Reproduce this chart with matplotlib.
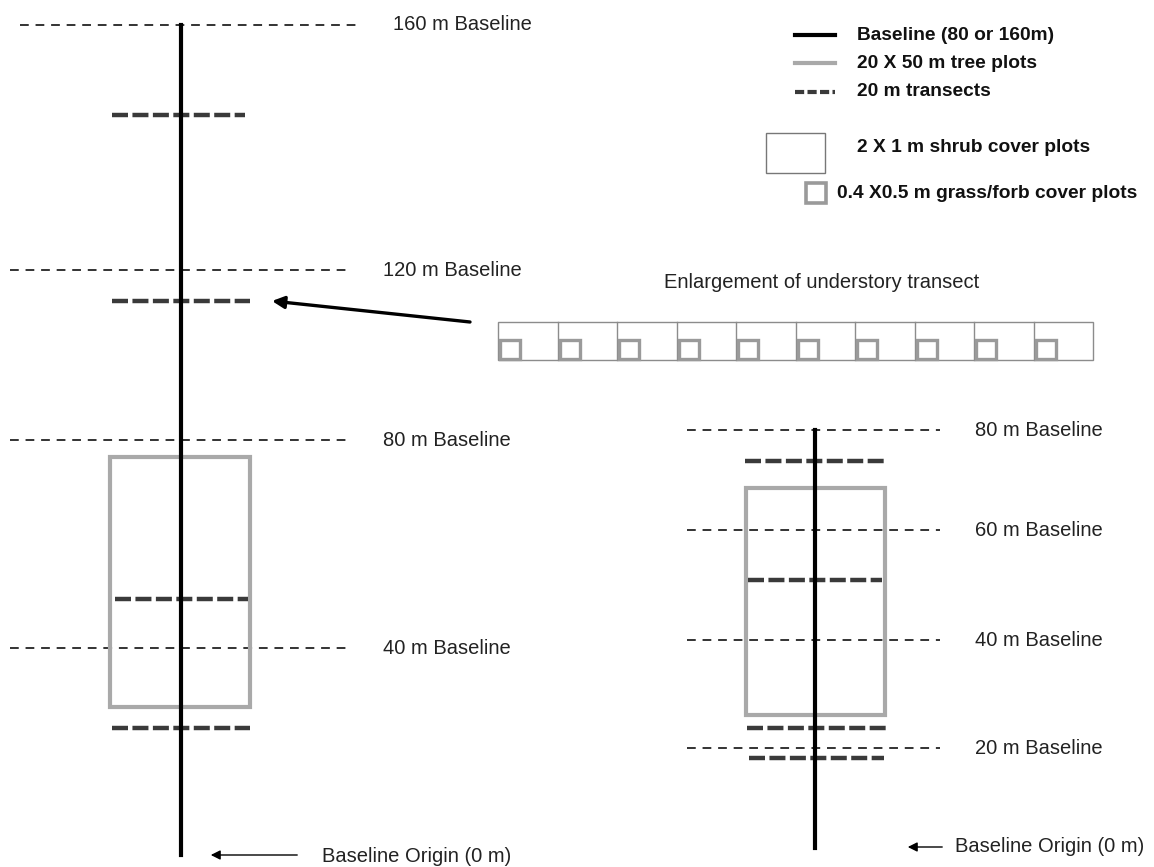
import matplotlib.pyplot as plt
from matplotlib.patches import Rectangle, FancyArrowPatch

plt.rcParams['font.family'] = ['Liberation Sans', 'DejaVu Sans']

# diagram drawn in image units (x to the right, y downward)
# left layout: 160 m baseline
left_x = 181
left_base_top, left_base_bottom = 25, 855
left_guides_y = [25, 270, 440, 648]
left_guides_x0 = [20, 10, 10, 10]
left_guides_x1 = [360, 350, 350, 350]
left_guide_labels = ['160 m Baseline', '120 m Baseline', '80 m Baseline', '40 m Baseline']
left_label_x = [393, 383, 383, 383]
left_transects_y = [115, 301, 599, 728]
left_transects_x0 = [112, 112, 115, 112]
left_transects_x1 = [245, 250, 248, 250]
left_plot = (110, 457, 250, 707)  # x0, y0, x1, y1

# right layout: 80 m baseline
right_x = 815
right_base_top, right_base_bottom = 430, 848
right_guides_y = [430, 530, 640, 748]
right_guide_labels = ['80 m Baseline', '60 m Baseline', '40 m Baseline', '20 m Baseline']
right_transects_y = [461, 580, 728, 758]
right_transects_x0 = [745, 748, 747, 749]
right_transects_x1 = [887, 882, 887, 884]
right_plot = (746, 488, 885, 715)

# enlargement of the understory transect
n_cells = 10
strip = (498, 322, 1093, 360)

legend_labels = ['Baseline (80 or 160m)', '20 X 50 m tree plots', '20 m transects',
                 '2 X 1 m shrub cover plots', '0.4 X0.5 m grass/forb cover plots']

BLACK = '#000000'
GRAY = '#a9a9a9'
DARK = '#3a3a3a'
FS = 14.5
FS_LEG = 13.8

fig = plt.figure(figsize=(11.54, 8.67), dpi=100)
ax = fig.add_axes([0, 0, 1, 1])
ax.set_xlim(0, 1154)
ax.set_ylim(867, 0)
ax.axis('off')


def guide(x0, x1, y):
    ax.plot([x0, x1], [y, y], color='#333333', lw=1.4, dashes=(4.5, 3.5), zorder=2)


def transect(x0, x1, y):
    ax.plot([x0, x1], [y, y], color=DARK, lw=3.2, dashes=(3.6, 1.0), zorder=4)


def tree_plot(box):
    x0, y0, x1, y1 = box
    ax.add_patch(Rectangle((x0, y0), x1 - x0, y1 - y0, fill=False,
                           edgecolor=GRAY, lw=3, zorder=3))


# left diagram
for y, x0, x1, lab, lx in zip(left_guides_y, left_guides_x0, left_guides_x1,
                              left_guide_labels, left_label_x):
    guide(x0, x1, y)
    ax.text(lx, y, lab, fontsize=FS, va='center', ha='left', color='#222222')
tree_plot(left_plot)
for y, x0, x1 in zip(left_transects_y, left_transects_x0, left_transects_x1):
    transect(x0, x1, y)
ax.plot([left_x, left_x], [left_base_top, left_base_bottom], color=BLACK, lw=3, zorder=5)
ax.annotate('', xy=(208, 855), xytext=(300, 855),
            arrowprops=dict(arrowstyle='-|>', color=BLACK, lw=1, mutation_scale=14))
ax.text(322, 856, 'Baseline Origin (0 m)', fontsize=FS, va='center', ha='left', color='#222222')

# right diagram
for y, lab in zip(right_guides_y, right_guide_labels):
    guide(687, 940, y)
    ax.text(975, y, lab, fontsize=FS, va='center', ha='left', color='#222222')
tree_plot(right_plot)
for y, x0, x1 in zip(right_transects_y, right_transects_x0, right_transects_x1):
    transect(x0, x1, y)
ax.plot([right_x, right_x], [right_base_top, right_base_bottom], color=BLACK, lw=3, zorder=5)
ax.annotate('', xy=(905, 847), xytext=(945, 847),
            arrowprops=dict(arrowstyle='-|>', color=BLACK, lw=1, mutation_scale=14))
ax.text(955, 847, 'Baseline Origin (0 m)', fontsize=FS, va='center', ha='left', color='#222222')

# enlargement strip
sx0, sy0, sx1, sy1 = strip
cell_w = (sx1 - sx0) / n_cells
ax.text(822, 283, 'Enlargement of understory transect', fontsize=FS,
        va='center', ha='center', color='#222222')
ax.add_patch(Rectangle((sx0, sy0), sx1 - sx0, sy1 - sy0, fill=False,
                       edgecolor='#8c8c8c', lw=1, zorder=2))
for i in range(n_cells):
    cx = sx0 + i * cell_w
    if i > 0:
        ax.plot([cx, cx], [sy0, sy1], color='#8c8c8c', lw=1, zorder=2)
    ax.add_patch(Rectangle((cx + 2, sy1 - 20), 20, 19, facecolor='white',
                           edgecolor='#9a9a9a', lw=2.4, zorder=3))
ax.add_patch(FancyArrowPatch((470, 322), (272, 301), arrowstyle='-|>', color=BLACK,
                             lw=2.4, mutation_scale=18, shrinkA=0, shrinkB=0))

# legend
ly = [35, 63, 92]
ax.plot([795, 835], [ly[0], ly[0]], color=BLACK, lw=3)
ax.plot([795, 835], [ly[1], ly[1]], color=GRAY, lw=3)
ax.plot([795, 835], [ly[2], ly[2]], color=DARK, lw=3, dashes=(2.2, 0.8))
for y, lab in zip(ly, legend_labels[:3]):
    ax.text(857, y, lab, fontsize=FS_LEG, fontweight='bold', va='center', ha='left',
            color='#111111')
ax.add_patch(Rectangle((766, 133), 59, 40, fill=False, edgecolor='#777777', lw=1))
ax.text(857, 147, legend_labels[3], fontsize=FS_LEG, fontweight='bold', va='center', ha='left',
        color='#111111')
ax.add_patch(Rectangle((806, 183), 20, 20, facecolor='white', edgecolor='#9a9a9a', lw=2.6))
ax.text(837, 193, legend_labels[4], fontsize=FS_LEG, fontweight='bold', va='center', ha='left',
        color='#111111')

fig.savefig('out.png', dpi=100)
